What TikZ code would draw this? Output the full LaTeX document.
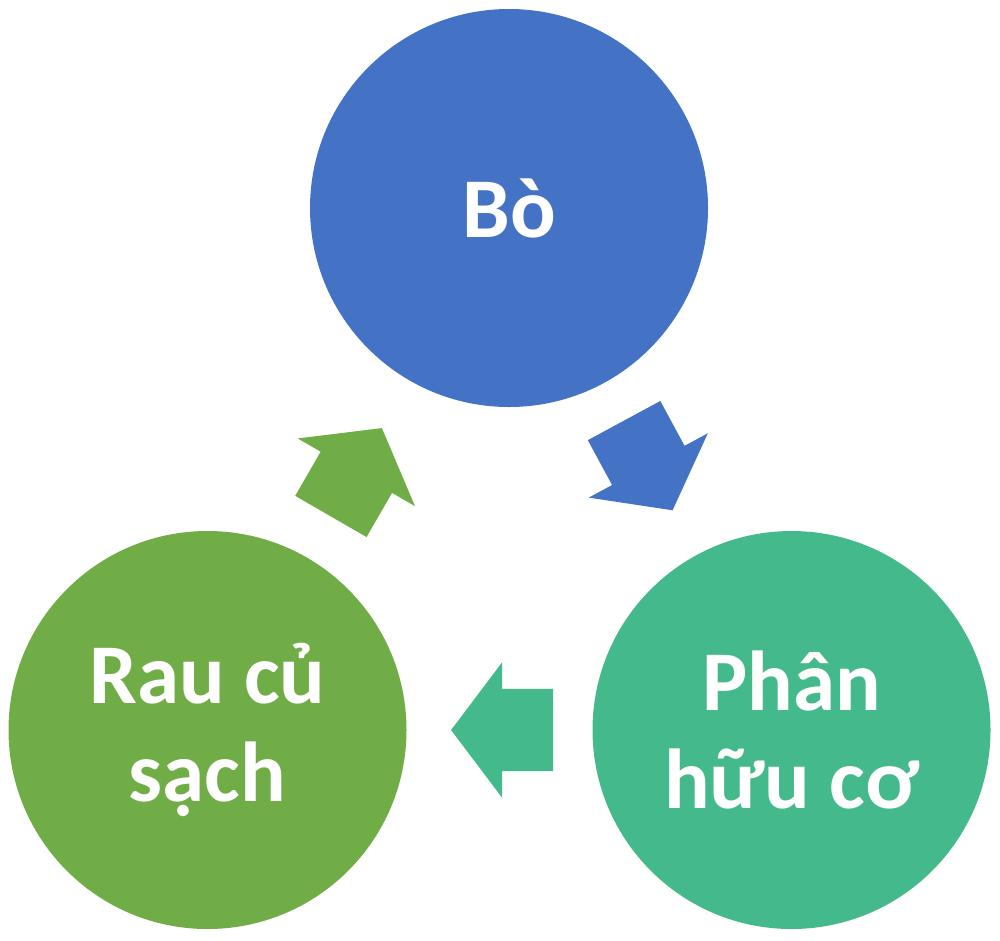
\documentclass[tikz,border=0pt]{standalone}
\usepackage{fontspec}
\setmainfont{Carlito}
\usepackage{xcolor}
\usetikzlibrary{shapes.arrows, positioning, calc}
\definecolor{plava}{HTML}{4472C4}
\definecolor{zelena}{HTML}{70AD47}
\definecolor{tirkiz}{HTML}{44BA8C}

\begin{document}
\begin{tikzpicture}[
  krug/.style={circle, inner sep=0pt, minimum size=3.98cm, align=center,
               text=white, font=\fontsize{24.2}{28}\selectfont\bfseries},
  strel/.style={single arrow, inner xsep=0pt, inner ysep=0.405cm,
                minimum height=1.02cm, minimum width=0pt,
                single arrow head extend=0.265cm, single arrow tip angle=106}
]
  \useasboundingbox (0,0) rectangle (10,9.4);
  \node[krug, fill=plava] (bo) at (5.09,7.32) {Bò};
  \node[krug, fill=tirkiz] (phan) at (7.915,2.10) {Phân\\hữu cơ};
  \node[krug, fill=zelena] (rau) at (2.075,2.10) {Rau củ\\sạch};

  % strelice izmedju krugova
  \node[strel, fill=plava, rotate=-61.6] (s1) at ($(bo)!0.467!(phan)$) {};
  \node[strel, fill=tirkiz, rotate=180] (s2) at ($(phan)!0.469!(rau)$) {};
  \node[strel, fill=zelena, rotate=60] (s3) at ($(rau)!0.468!(bo)$) {};
\end{tikzpicture}
\end{document}
